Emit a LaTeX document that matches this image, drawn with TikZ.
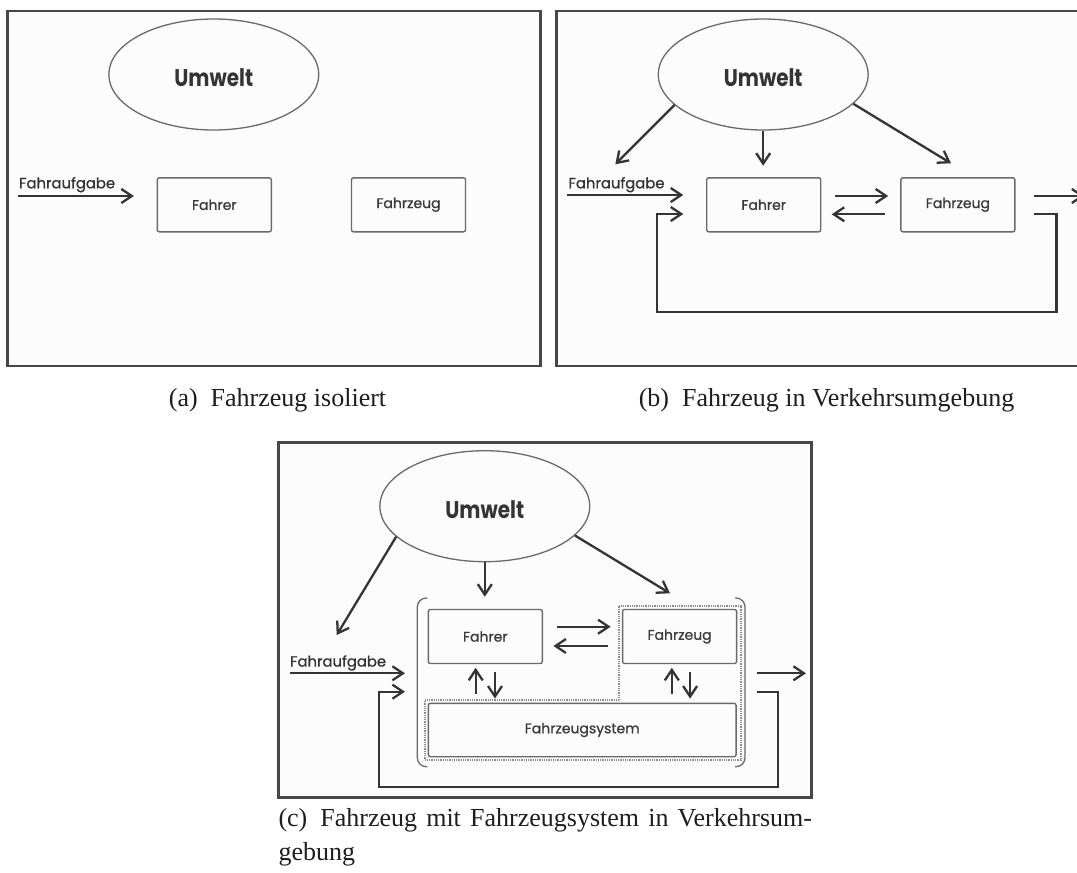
\documentclass[tikz,border=0pt]{standalone}
\usepackage{fontspec}
\usepackage{graphicx}
\setmainfont{Liberation Serif}
\newfontfamily\lblfont[FakeBold=0.9]{Poppins}
\newfontfamily\headfont{Poppins}
\usetikzlibrary{arrows.meta,shapes.geometric,calc}
\definecolor{framec}{HTML}{474747}
\definecolor{boxc}{HTML}{6A6A6A}
\definecolor{arrc}{HTML}{343434}
\definecolor{txtc}{HTML}{3A3A3A}
\definecolor{capc}{HTML}{1E1E1E}
\definecolor{dotc}{HTML}{8C8C8C}
\begin{document}
\begin{tikzpicture}[x=1pt,y=-1pt,
  panel/.style={draw=framec, line width=2.6pt, fill=black!1},
  block/.style={draw=boxc, line width=1.4pt, rounded corners=2pt,
    minimum width=114pt, minimum height=54pt, inner sep=0pt,
    font=\lblfont\fontsize{14}{16}\selectfont, text=txtc},
  sysblock/.style={block, minimum width=307.7pt, minimum height=53.4pt},
  world/.style={ellipse, draw=boxc, line width=1.3pt,
    minimum width=210pt, minimum height=111pt, inner sep=0pt},
  worldtext/.style={font=\headfont\bfseries\fontsize{21}{24}\selectfont,
    text=arrc, inner sep=0pt},
  task/.style={font=\lblfont\fontsize{14.8}{16}\selectfont, text=arrc,
    inner sep=0pt, anchor=base west},
  arr/.style={draw=arrc, line width=2.3pt,
    -{Straight Barb[length=10.5pt,width=14pt]}},
  bracket/.style={draw=boxc, line width=1.3pt, rounded corners=9pt},
  grouping/.style={draw=dotc, line width=1.8pt, dash pattern=on 0.9pt off 0.9pt},
  subcap/.style={font=\fontsize{26}{30}\selectfont, text=capc, inner sep=0pt, anchor=base},
]
\useasboundingbox (0,0) rectangle (1077,873);
\clip (0,0) rectangle (1077,873);

% ---------- (a) vehicle on its own ----------
\begin{scope}[shift={(7.3,11)}]
  \draw[panel] (0,0) rectangle (533,355);
  \node[world] (aU) at (206.5,63.5) {};
  \node[worldtext] (aUt) at (206.5,66.5) {\scalebox{0.95}[1.15]{Umwelt}};
  \node[block] (aF) at (207,193.8) {Fahrer};
  \node[block] (aZ) at (401.2,193.8) {Fahrzeug};
  \node[task] (aT) at (11.6,177.3) {Fahraufgabe};
  \coordinate (aIn) at (10.7,185);
  \draw[arr] (aIn) -- ($(aF.west)+(-22.7,-8.8)$);
\end{scope}

% ---------- (b) vehicle in traffic ----------
\begin{scope}[shift={(556.7,11)}]
  \draw[panel] (0,0) rectangle (533,355);
  \node[world] (bU) at (206.5,63.5) {};
  \node[worldtext] (bUt) at (206.5,66.5) {\scalebox{0.95}[1.15]{Umwelt}};
  \node[block] (bF) at (207,193.8) {Fahrer};
  \node[block] (bZ) at (401.2,193.8) {Fahrzeug};
  \node[task] (bT) at (11.6,177.3) {Fahraufgabe};
  \coordinate (bIn) at (10.7,184);
  \coordinate (bTaskTip) at (58.6,153.3);
  \coordinate (bFTip) at (206.5,154.7);
  \coordinate (bZTip) at (394.3,152.3);
  \coordinate (bLoopR) at (499.7,300.7);
  \coordinate (bLoopL) at (100,300.7);
  \coordinate (bOut) at (527.7,185);
  \draw[arr] (bU.199) -- (bTaskTip);
  \draw[arr] (bU.south) -- (bFTip);
  \draw[arr] (bU.342) -- (bZTip);
  \draw[arr] (bIn) -- ($(bF.west)+(-22.7,-9.8)$);
  \draw[arr] ($(bF.east)+(13.8,-8.8)$) -- ($(bZ.west)+(-12,-8.8)$);
  \draw[arr] ($(bZ.west)+(-15,9.5)$) -- ($(bF.east)+(10.3,9.5)$);
  \draw[arr] ($(bZ.east)+(18.3,-8.8)$) -- (bOut);
  \draw[arr] ($(bZ.east)+(18.3,9.5)$) -| (bLoopR) -- (bLoopL)
    |- ($(bF.west)+(-22.7,9.2)$);
\end{scope}

% ---------- (c) vehicle with vehicle system in traffic ----------
\begin{scope}[shift={(278.3,442.7)}]
  \draw[panel] (0,0) rectangle (533,355);
  \node[world] (cU) at (206.5,63.5) {};
  \node[worldtext] (cUt) at (206.5,66.5) {\scalebox{0.95}[1.15]{Umwelt}};
  \node[block] (cF) at (207,193.8) {Fahrer};
  \node[block] (cZ) at (401.3,193.8) {Fahrzeug};
  \node[sysblock] (cS) at (303.9,287.3) {Fahrzeugsystem};
  % vehicle + vehicle system grouping
  \draw[grouping] (341,163) -- (462.4,163) -- (462.4,317.3) -- (146.7,317.3)
    -- (146.7,257.3) -- (341,257.3) -- cycle;
  % enclosing brackets
  \draw[bracket] (149,155.3) -- (139,155.3) -- (139,324) -- (149,324);
  \draw[bracket] (456.7,155.3) -- (466.7,155.3) -- (466.7,324) -- (456.7,324);
  \node[task] (cT) at (11.6,223.9) {Fahraufgabe};
  \coordinate (cIn) at (11.3,230.6);
  \coordinate (cTaskTip) at (58.4,192.3);
  \coordinate (cFTip) at (206.5,154);
  \coordinate (cZTip) at (391.7,150.6);
  \coordinate (cLoopR) at (499.7,344);
  \coordinate (cLoopL) at (100.7,344);
  \coordinate (cOut) at (527.7,230.6);
  \draw[arr] (cU.199) -- (cTaskTip);
  \draw[arr] (cU.south) -- (cFTip);
  \draw[arr] (cU.342) -- (cZTip);
  \draw[arr] (cIn) -- ($(cF.west)+(-22.6,36.8)$);
  \draw[arr] ($(cF.east)+(13.7,-9.8)$) -- ($(cZ.west)+(-11.3,-9.8)$);
  \draw[arr] ($(cZ.west)+(-14.3,9.5)$) -- ($(cF.east)+(10.4,9.5)$);
  \draw[arr] ($(cS.north -| cF.south)+(-9.6,-8.3)$) -- ($(cF.south)+(-9.6,3.6)$);
  \draw[arr] ($(cF.south)+(9.7,8)$) -- ($(cS.north -| cF.south)+(9.7,-4)$);
  \draw[arr] ($(cS.north -| cZ.south)+(-7.8,-8.3)$) -- ($(cZ.south)+(-7.8,3.6)$);
  \draw[arr] ($(cZ.south)+(10.5,8)$) -- ($(cS.north -| cZ.south)+(10.5,-4)$);
  \draw[arr] ($(cZ.east)+(19.4,36.8)$) -- (cOut);
  \draw[arr] ($(cZ.east)+(19.4,55.2)$) -| (cLoopR) -- (cLoopL)
    |- ($(cF.west)+(-22.6,55.2)$);
\end{scope}

% ---------- sub-captions ----------
\node[subcap] (capA) at (277.5,406.7) {(a)\hspace{0.5em}Fahrzeug isoliert};
\node[subcap] (capB) at (826.5,406.7) {(b)\hspace{0.5em}Fahrzeug in Verkehrsumgebung};
\node[subcap, anchor=base west] (capC) at (278.3,826.7)
  {\makebox[533.5pt][s]{(c)\hspace{0.5em}Fahrzeug mit Fahrzeugsystem in Verkehrsum-}};
\node[subcap, anchor=base west] (capC2) at (278.3,860) {gebung};
\end{tikzpicture}
\end{document}
